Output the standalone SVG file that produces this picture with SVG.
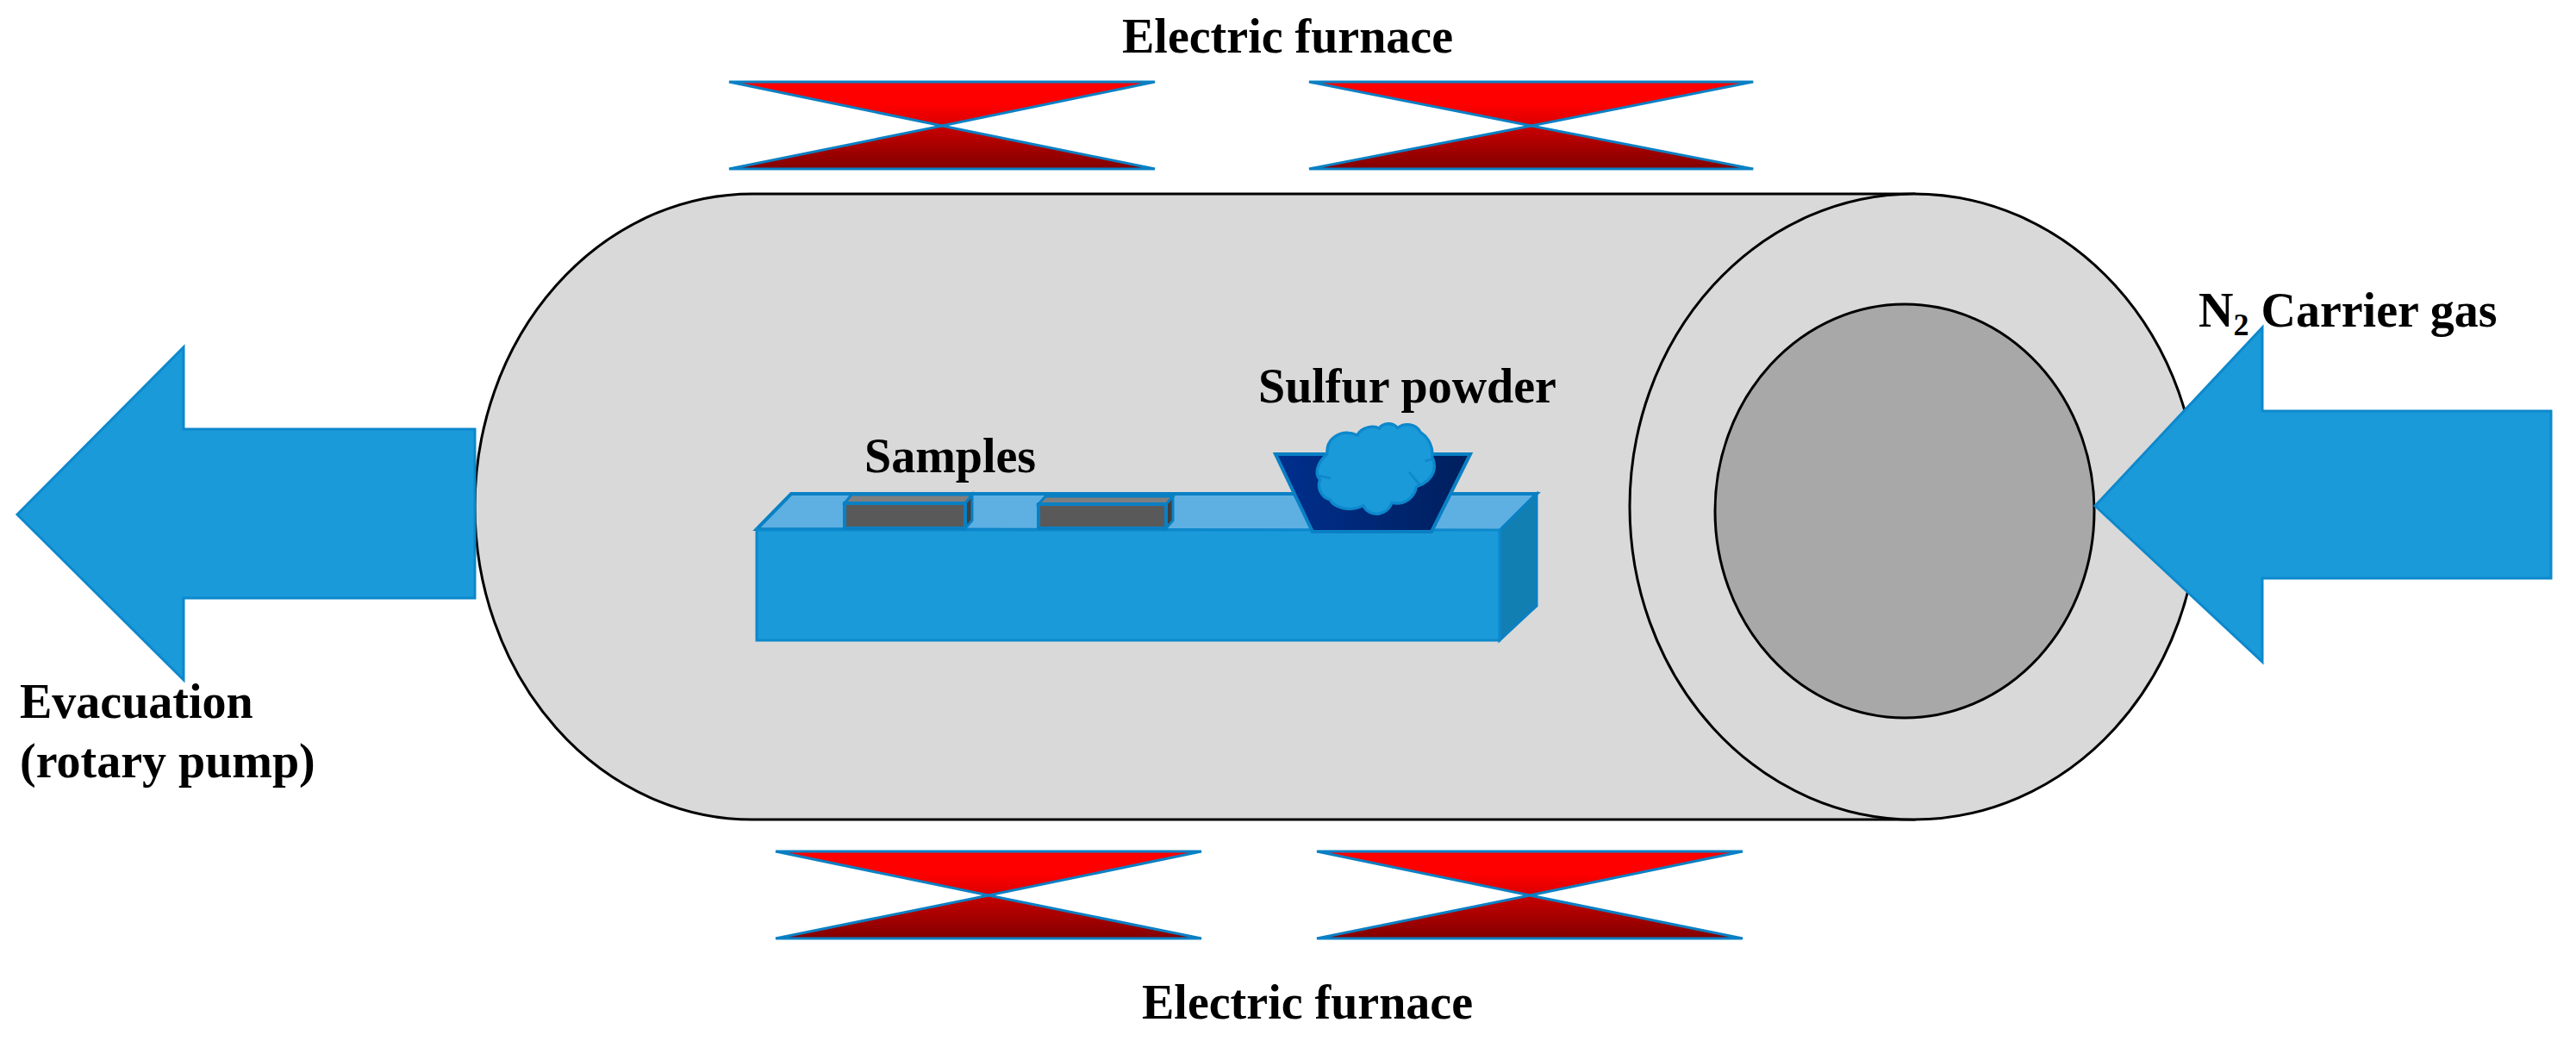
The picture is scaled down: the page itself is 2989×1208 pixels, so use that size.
<svg xmlns="http://www.w3.org/2000/svg" width="2989" height="1208" viewBox="0 0 2989 1208">
<style>
.lbl{font-family:"Liberation Serif","Times New Roman",serif;font-weight:bold;font-size:56px;fill:#000}
.blue{fill:#1b9ad9;stroke:#0d88cc;stroke-width:3;stroke-linejoin:miter}
.tube{stroke:#000;stroke-width:3}
.fur{stroke:#0a80c4;stroke-width:3;stroke-linejoin:miter}
</style>
<defs>
<linearGradient id="gT" x1="0" y1="0" x2="0" y2="1"><stop offset="0.5" stop-color="#ff0000"/><stop offset="1" stop-color="#d80000"/></linearGradient>
<linearGradient id="gB" x1="0" y1="0" x2="0" y2="1"><stop offset="0" stop-color="#c80000"/><stop offset="1" stop-color="#820000"/></linearGradient>
<linearGradient id="gBowl" x1="0" y1="0" x2="1" y2="0"><stop offset="0" stop-color="#002f8e"/><stop offset="1" stop-color="#001f5c"/></linearGradient>
<g id="furnace">
<polygon class="fur" fill="url(#gT)" points="0,0 494,0 247,51"/>
<polygon class="fur" fill="url(#gB)" points="247,51 494,101 0,101"/>
</g>
</defs>
<rect width="2989" height="1208" fill="#fff"/>
<g id="tube">
<path class="tube" fill="#d9d9d9" d="M2221,225 H873 A322,363 0 0 0 873,951 H2221 Z"/>
<ellipse class="tube" fill="#d9d9d9" cx="2221" cy="588" rx="330" ry="363"/>
<ellipse class="tube" fill="#a8a8a8" cx="2210" cy="593" rx="220" ry="240"/>
</g>
<g id="furnace-top-left"><use href="#furnace" x="846" y="95"/></g>
<g id="furnace-top-right"><g transform="translate(1519 95) scale(1.043 1)"><use href="#furnace"/></g></g>
<g id="furnace-bottom-left"><use href="#furnace" x="900" y="988"/></g>
<g id="furnace-bottom-right"><use href="#furnace" x="1528" y="988"/></g>
<g id="tray">
<polygon fill="#5eb0e2" stroke="#0a80c4" stroke-width="4" points="878,614 918,573 1783,573 1740,616"/>
<polygon fill="#127fb3" stroke="#0a80c4" stroke-width="3" points="1740,616 1783,573 1783,703 1740,743"/>
<rect class="blue" x="878" y="615" width="862" height="128"/>
</g>
<g id="sample-1">
<polygon fill="#7f7f7f" stroke="#0a80c4" stroke-width="3" points="980,584 988,574 1128,574 1120,584"/>
<polygon fill="#404040" stroke="#0a80c4" stroke-width="3" points="1120,584 1128,574 1128,604 1120,613"/>
<rect x="980" y="584" width="140" height="29" fill="#595959" stroke="#0a80c4" stroke-width="4"/>
</g>
<g id="sample-2">
<polygon fill="#7f7f7f" stroke="#0a80c4" stroke-width="3" points="1205,585 1213,576 1361,576 1353,585"/>
<polygon fill="#404040" stroke="#0a80c4" stroke-width="3" points="1353,585 1361,576 1361,604 1353,613"/>
<rect x="1205" y="585" width="148" height="28" fill="#595959" stroke="#0a80c4" stroke-width="4"/>
</g>
<g id="bowl">
<polygon fill="url(#gBowl)" stroke="#0a80c4" stroke-width="4" points="1480,527 1706,527 1661,617 1523,617"/>
</g>
<g id="sulfur" transform="translate(1400 380) scale(0.3333)">
<path fill="#1b9ad9" stroke="#0d88cc" stroke-width="10" d="M420,440 C415,385 470,350 525,375 C540,345 585,340 600,352 C615,330 650,330 665,350 C690,330 730,335 745,365 C775,385 790,420 785,450 C800,480 800,530 730,555 C725,590 690,620 645,610 C630,655 570,665 545,620 C500,645 440,625 430,600 C395,590 385,555 395,530 C375,510 385,470 420,440 Z"/>
<path fill="none" stroke="#0d88cc" stroke-width="8" d="M385,515 L432,525 M705,503 L742,548 M760,465 L788,458"/>
</g>
<g id="connectors">
<polygon class="blue" points="20,597 213,403 213,498 551,498 551,694 213,694 213,789"/>
<polygon class="blue" points="2431,587 2625,380 2625,477 2960,477 2960,671 2625,671 2625,768"/>
</g>
<g id="labels">
<text class="lbl" x="1302" y="61">Electric furnace</text>
<text class="lbl" x="1325" y="1182">Electric furnace</text>
<text class="lbl" x="1460" y="467">Sulfur powder</text>
<text class="lbl" x="1003" y="548">Samples</text>
<text class="lbl" x="23" y="833">Evacuation</text>
<text class="lbl" x="23" y="902">(rotary pump)</text>
<text class="lbl" x="2551" y="379">N<tspan font-size="36" dy="10">2</tspan><tspan dy="-10"> Carrier gas</tspan></text>
</g>
</svg>
